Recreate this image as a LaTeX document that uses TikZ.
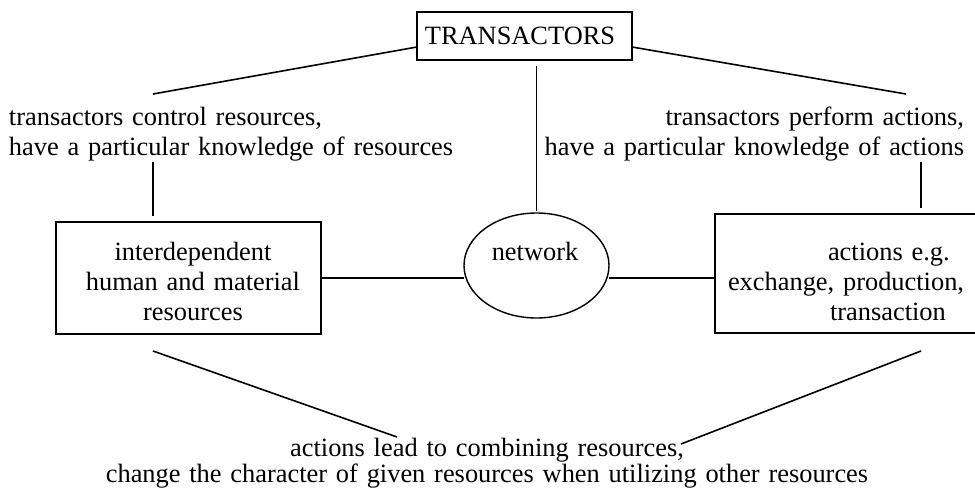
\documentclass[tikz,border=0pt]{standalone}
\usepackage{fontspec}
\setmainfont{Liberation Serif}
\usetikzlibrary{shapes.geometric,calc}
\begin{document}
\begin{tikzpicture}[x=1pt,y=-1pt,
  every node/.style={inner sep=0pt, outer sep=0pt},
  frame/.style={draw, line width=1.6pt, rectangle},
  oval/.style={draw, line width=1.4pt, ellipse},
  link/.style={line width=1.6pt},
  txt/.style={font=\fontsize{26.4}{30}\selectfont},
]
\useasboundingbox (0,0) rectangle (975,490);
\clip (0,0) rectangle (975,490);

% central actor box
\node[frame, txt, minimum width=215, minimum height=48] (trans) at (524.5,36) {TRANSACTORS\hspace*{9pt}};

% upper side captions
\node[txt, text width=460, align=left, anchor=base west] (ctrl) at (9,125)
  {transactors control resources,\\have a particular knowledge of resources};
\node[txt, text width=460, align=right, anchor=base east] (perf) at (964,125)
  {transactors perform actions,\\have a particular knowledge of actions};

% resources box
\node[frame, minimum width=265, minimum height=112] (lbox) at (188.5,278) {};
\node[txt, text width=240, align=center, anchor=base] (ltext) at (193,260)
  {interdependent\hspace*{16pt}\\human and material\\resources};

% network ellipse
\node[oval, minimum width=145, minimum height=105] (net) at (536.5,265.5) {};
\node[txt, anchor=base] (ntext) at (535,260) {network};

% actions box (runs past the right edge)
\node[frame, anchor=north west, minimum width=300, minimum height=119] (act) at (715,214) {};
\node[txt, text width=240, align=left, anchor=base west] (atext) at (728,260)
  {\hspace*{100pt}actions e.g.\\exchange, production,\\\hspace*{102pt}transaction};

% lower caption
\node[txt, text width=800, align=center, anchor=base] (comb) at (487,456)
  {actions lead to combining resources,\\[-3.7pt]change the character of given resources when utilizing other resources};

% connectors
\coordinate (tl) at (153,94);
\coordinate (tr) at (906,94);
\draw[link] (tl) -- ($(trans.west)+(0,11)$);
\draw[link] ($(trans.east)+(0,11)$) -- (tr);
\draw[link] ($(net.north |- trans.south)+(0,6)$) -- ($(net.north)+(0,-2)$);

\coordinate (lv) at (153,162);
\draw[link] (lv) -- ($(lv |- lbox.north)+(0,-6)$);
\coordinate (rv) at (921,162);
\draw[link] (rv) -- ($(rv |- act.north)+(0,-6)$);

\draw[link] (lbox.east) -- (lbox.east -| net.west);
\draw[link] (net.east |- lbox.east) -- (lbox.east -| act.west);

\coordinate (bl) at (153,351);
\coordinate (bm) at (397,437);
\coordinate (br) at (921,351);
\coordinate (bn) at (681,444);
\draw[link] (bl) -- (bm);
\draw[link] (br) -- (bn);
\end{tikzpicture}
\end{document}
